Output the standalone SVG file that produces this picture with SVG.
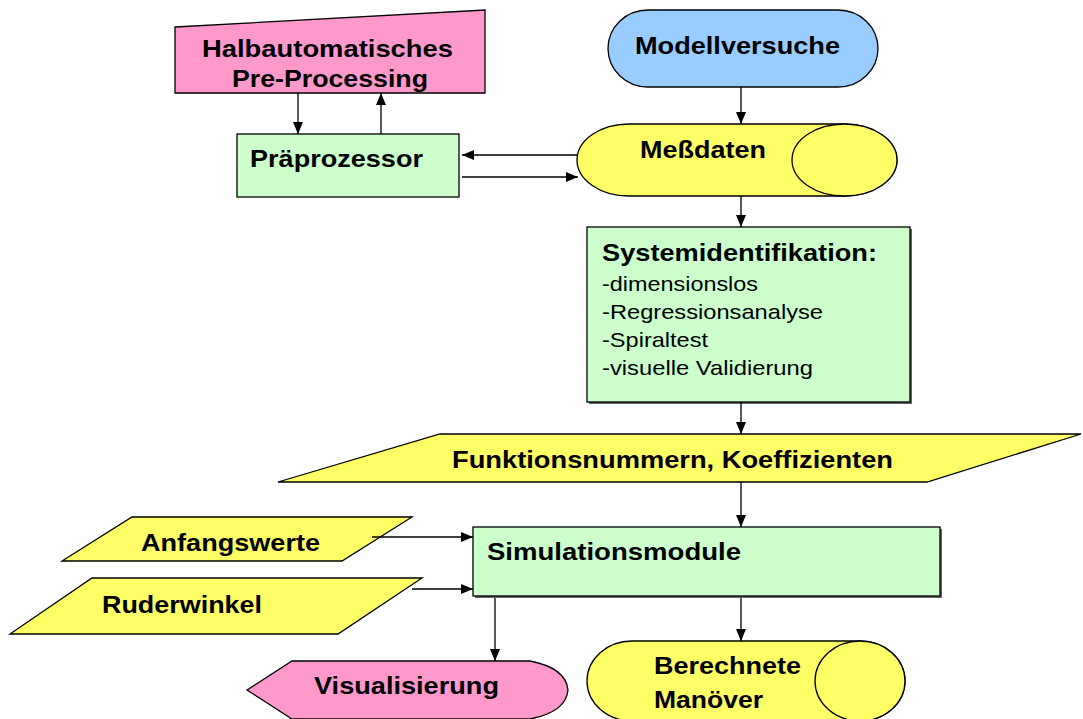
<svg xmlns="http://www.w3.org/2000/svg" width="1083" height="719" viewBox="0 0 1083 719">
<defs>
<marker id="ah" markerWidth="12" markerHeight="10" refX="12" refY="5" orient="auto" markerUnits="userSpaceOnUse">
<path d="M0,0 L12,5 L0,10 Z" fill="#000"/>
</marker>
</defs>
<style>
.shp{stroke:#000;stroke-width:1.3}
.pink{fill:#FF99CC}
.blue{fill:#99CCFF}
.yel{fill:#FFFF66}
.grn{fill:#CCFFCC}
.b{font-family:"Liberation Sans",Arial,sans-serif;font-weight:bold;font-size:24.5px;fill:#000}
.r{font-family:"Liberation Sans",Arial,sans-serif;font-size:21px;fill:#000}
.ln{stroke:#000;stroke-width:1.3;fill:none;marker-end:url(#ah)}
</style>
<rect width="1083" height="719" fill="#fff"/>

<g id="halbautomatisches">
<polygon class="shp pink" points="175,27 485,10 485,93 175,93"/>
<text class="b" x="202" y="57" textLength="251" lengthAdjust="spacingAndGlyphs">Halbautomatisches</text>
<text class="b" x="232" y="87" textLength="196" lengthAdjust="spacingAndGlyphs">Pre-Processing</text>
</g>

<g id="praeprozessor">
<rect class="shp grn" x="237" y="134" width="222" height="63"/>
<text class="b" x="250" y="167" textLength="173" lengthAdjust="spacingAndGlyphs">Präprozessor</text>
</g>

<g id="modellversuche">
<rect class="shp blue" x="608" y="10" width="270" height="77" rx="40" ry="38.5"/>
<text class="b" x="635" y="54" textLength="205" lengthAdjust="spacingAndGlyphs">Modellversuche</text>
</g>

<g id="messdaten">
<path class="shp yel" d="M629,124 L844.5,124 A52.5,36 0 0 1 844.5,196 L629,196 A52,36 0 0 1 629,124 Z"/>
<ellipse class="shp yel" cx="844.5" cy="160" rx="52.5" ry="36"/>
<text class="b" x="640" y="158" textLength="126" lengthAdjust="spacingAndGlyphs">Meßdaten</text>
</g>

<g id="systemidentifikation">
<rect x="589" y="229" width="323" height="175" fill="#666"/>
<rect class="shp grn" x="587" y="227" width="323" height="175"/>
<text class="b" x="602" y="261" textLength="275" lengthAdjust="spacingAndGlyphs">Systemidentifikation:</text>
<text class="r" x="602" y="291" textLength="156" lengthAdjust="spacingAndGlyphs">-dimensionslos</text>
<text class="r" x="602" y="319" textLength="221" lengthAdjust="spacingAndGlyphs">-Regressionsanalyse</text>
<text class="r" x="602" y="347" textLength="106" lengthAdjust="spacingAndGlyphs">-Spiraltest</text>
<text class="r" x="602" y="375" textLength="211" lengthAdjust="spacingAndGlyphs">-visuelle Validierung</text>
</g>

<g id="funktionsnummern">
<polygon class="shp yel" points="440,434 1081,434 927,482 278,482"/>
<text class="b" x="452" y="468" textLength="441" lengthAdjust="spacingAndGlyphs">Funktionsnummern, Koeffizienten</text>
</g>

<g id="anfangswerte">
<polygon class="shp yel" points="132,517 412,517 342,561 62,561"/>
<text class="b" x="141" y="551" textLength="179" lengthAdjust="spacingAndGlyphs">Anfangswerte</text>
</g>

<g id="ruderwinkel">
<polygon class="shp yel" points="92,578 422,578 338,634 10,634"/>
<text class="b" x="102" y="613" textLength="160" lengthAdjust="spacingAndGlyphs">Ruderwinkel</text>
</g>

<g id="simulationsmodule">
<rect x="475" y="529" width="467" height="69" fill="#666"/>
<rect class="shp grn" x="473" y="527" width="467" height="69"/>
<text class="b" x="487" y="560" textLength="254" lengthAdjust="spacingAndGlyphs">Simulationsmodule</text>
</g>

<g id="visualisierung">
<path class="shp pink" d="M247,690 L292,661 L530,661 Q566,668 568,690 Q566,712 530,719 L292,719 Z"/>
<text class="b" x="314" y="694" textLength="185" lengthAdjust="spacingAndGlyphs">Visualisierung</text>
</g>

<g id="berechnete">
<path class="shp yel" d="M632,641 L860,641 A45,40 0 0 1 860,721 L632,721 A45,40 0 0 1 632,641 Z"/>
<ellipse class="shp yel" cx="860" cy="681" rx="45" ry="40"/>
<text class="b" x="654" y="674" textLength="147" lengthAdjust="spacingAndGlyphs">Berechnete</text>
<text class="b" x="654" y="708" textLength="109" lengthAdjust="spacingAndGlyphs">Manöver</text>
</g>

<g id="connectors">
<line class="ln" x1="298" y1="93" x2="298" y2="134"/>
<line class="ln" x1="381" y1="134" x2="381" y2="93"/>
<line class="ln" x1="578" y1="155" x2="462" y2="155"/>
<line class="ln" x1="462" y1="177" x2="578" y2="177"/>
<line class="ln" x1="741" y1="87" x2="741" y2="124"/>
<line class="ln" x1="741" y1="196" x2="741" y2="227"/>
<line class="ln" x1="741" y1="402" x2="741" y2="434"/>
<line class="ln" x1="741" y1="482" x2="741" y2="527"/>
<line class="ln" x1="372" y1="537" x2="473" y2="537"/>
<line class="ln" x1="412" y1="589" x2="473" y2="589"/>
<line class="ln" x1="495" y1="598" x2="495" y2="661"/>
<line class="ln" x1="741" y1="598" x2="741" y2="641"/>
</g>
</svg>
